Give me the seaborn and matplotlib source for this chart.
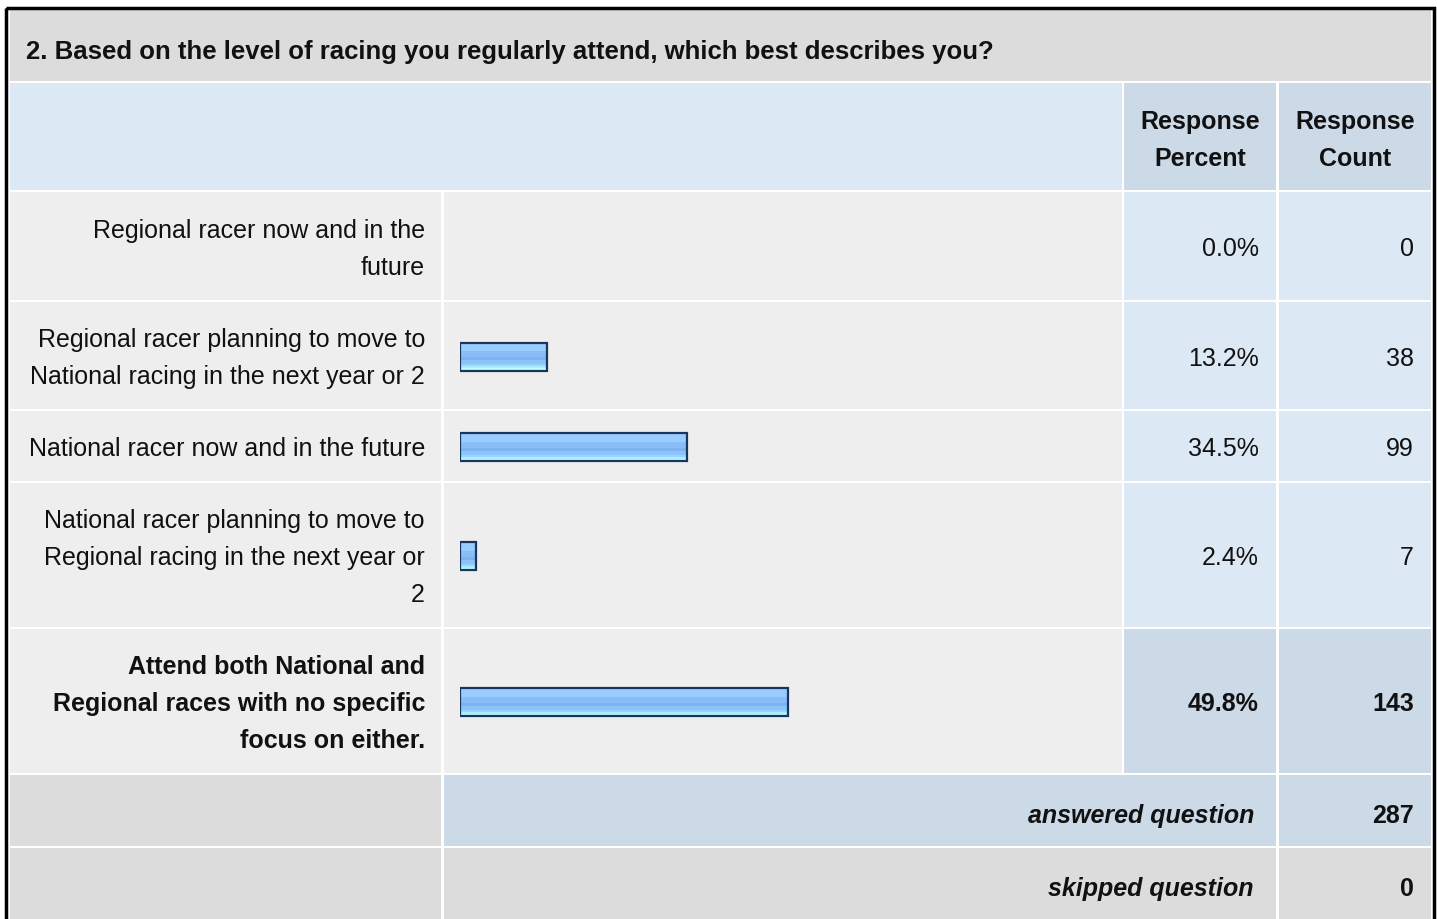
import numpy as np
import matplotlib
matplotlib.use("Agg")
import matplotlib.pyplot as plt
from matplotlib.patches import Rectangle
from matplotlib.colors import to_rgb
import seaborn as sns

# ── Data ────────────────────────────────────────────────────
question = "2. Based on the level of racing you regularly attend, which best describes you?"
answer_labels = [
    "Regional racer now and in the\nfuture",
    "Regional racer planning to move to\nNational racing in the next year or 2",
    "National racer now and in the future",
    "National racer planning to move to\nRegional racing in the next year or\n2",
    "Attend both National and\nRegional races with no specific\nfocus on either.",
]
response_percent = [0.0, 13.2, 34.5, 2.4, 49.8]
response_count = [0, 38, 99, 7, 143]
answered_question = 287
skipped_question = 0

# ── Layout (pixels) ─────────────────────────────────────────
W, H = 1437, 920
col_edges = [(10, 441), (444, 1122), (1124, 1276), (1279, 1431)]
title_rows = (10, 82)
header_rows = (84, 191)
row_edges = [(193, 301), (303, 410), (412, 482), (484, 628), (630, 774)]
answered_rows = (776, 847)
skipped_rows = (849, 925)
line_pitch = 37
bar_left, bar_right = 460, 1118
bar_px = 28

GRAY = "#dcdcdc"
ROW_BG = "#eeeeee"
BLUE_LT = "#dde8f5"
BLUE_DK = "#ccd9e7"
TXT = "#111111"
FS = 18

sns.set_style("white")
plt.rcParams["font.family"] = ["Liberation Sans", "DejaVu Sans"]

fig = plt.figure(figsize=(W / 100, H / 100), dpi=100)
bg = fig.add_axes([0, 0, 1, 1])
bg.set_xlim(0, W)
bg.set_ylim(H, 0)
bg.axis("off")


def cell(x0, x1, y0, y1, color):
    bg.add_patch(Rectangle((x0, y0), x1 - x0, y1 - y0, facecolor=color,
                           edgecolor="none", zorder=1))


def lines(text, x, yc, ha="right", weight="normal", style="normal"):
    # one text per line so the line pitch matches the table
    parts = text.split("\n")
    top = yc - (len(parts) - 1) * line_pitch / 2
    for i, p in enumerate(parts):
        bg.text(x, top + i * line_pitch, p, ha=ha, va="center_baseline",
                fontsize=FS, fontweight=weight, fontstyle=style,
                color=TXT, zorder=3)


# title bar
cell(10, 1431, *title_rows, GRAY)
bg.text(26, 50, question, ha="left", va="center_baseline", fontsize=18.5,
        fontweight="bold", color=TXT, zorder=3)

# header
cell(col_edges[0][0], col_edges[1][1], *header_rows, BLUE_LT)
cell(*col_edges[2], *header_rows, BLUE_DK)
cell(*col_edges[3], *header_rows, BLUE_DK)
hc = sum(header_rows) / 2
lines("Response\nPercent", sum(col_edges[2]) / 2, hc, ha="center", weight="bold")
lines("Response\nCount", sum(col_edges[3]) / 2, hc, ha="center", weight="bold")

# answer rows
top_idx = int(np.argmax(response_count))
for i, (y0, y1) in enumerate(row_edges):
    is_top = i == top_idx
    val_bg = BLUE_DK if is_top else BLUE_LT
    cell(*col_edges[0], y0, y1, ROW_BG)
    cell(*col_edges[1], y0, y1, ROW_BG)
    cell(*col_edges[2], y0, y1, val_bg)
    cell(*col_edges[3], y0, y1, val_bg)
    yc = (y0 + y1) / 2
    fw = "bold" if is_top else "normal"
    lines(answer_labels[i], col_edges[0][1] - 16, yc, weight=fw)
    lines(f"{response_percent[i]:.1f}%", col_edges[2][1] - 17, yc, weight=fw)
    lines(f"{response_count[i]}", col_edges[3][1] - 17, yc, weight=fw)

# summary rows
cell(*col_edges[0], *answered_rows, GRAY)
cell(col_edges[1][0], col_edges[2][1], *answered_rows, BLUE_DK)
cell(*col_edges[3], *answered_rows, BLUE_DK)
cell(*col_edges[0], *skipped_rows, GRAY)
cell(col_edges[1][0], col_edges[2][1], *skipped_rows, GRAY)
cell(*col_edges[3], *skipped_rows, GRAY)
for (y0, y1), name, val in [(answered_rows, "answered question", answered_question),
                            (skipped_rows, "skipped question", skipped_question)]:
    yc = (y0 + min(y1, H)) / 2 + 2
    lines(name, col_edges[2][1] - 22, yc, weight="bold", style="italic")
    lines(str(val), col_edges[3][1] - 17, yc, weight="bold")

# outer frame
bg.add_patch(Rectangle((6, 8.5), 1428, 940, facecolor="none",
                       edgecolor="black", linewidth=2.5, zorder=4))

# ── Bars (seaborn, native numeric y = row centres in pixels) ──
centers = [(a + b) / 2 + 1 for a, b in row_edges]
gap = np.min(np.diff(sorted(centers)))
bar_ax = fig.add_axes([bar_left / W, 0, (bar_right - bar_left) / W, 1])
sns.barplot(x=response_percent, y=centers, orient="y", native_scale=True,
            width=bar_px / gap, color="#99ccff", edgecolor="#1b365c",
            linewidth=1.6, ax=bar_ax, zorder=2)
bar_ax.set_xlim(0, 100)
bar_ax.set_ylim(H, 0)
bar_ax.axis("off")
bar_ax.patch.set_alpha(0)

stripes = (["#99ccff"] * 8 + ["#88bdf7"] * 6 + ["#7db3f1"] * 3 +
           ["#8cc3f9"] * 3 + ["#99d3ff"] * 2 + ["#aaeeff"] * 2 + ["#bbffff"] * 2)
grad = np.array([to_rgb(c) for c in stripes]).reshape(-1, 1, 3)
for p in list(bar_ax.patches):
    if p.get_width() <= 0:
        p.set_visible(False)
        continue
    x0, y0, w, h = p.get_x(), p.get_y(), p.get_width(), p.get_height()
    im = bar_ax.imshow(grad, extent=[x0, x0 + w, y0 + h, y0], aspect="auto",
                       interpolation="nearest", zorder=1.5)
    im.set_clip_path(p)
    p.set_facecolor("none")
bar_ax.set_xlim(0, 100)
bar_ax.set_ylim(H, 0)

fig.savefig("out.png", dpi=100)
